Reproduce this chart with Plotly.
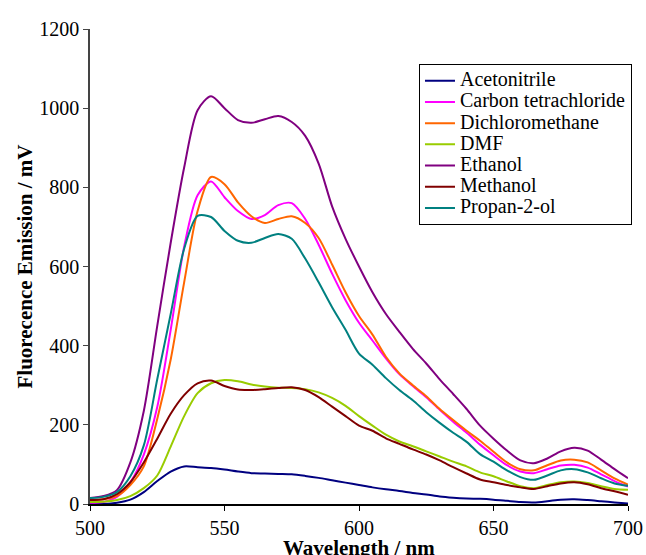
import plotly.graph_objects as go

wavelength = list(range(500, 701, 5))

acetonitrile = [0, 0, 3, 11, 30, 58, 82, 95, 93, 91, 87, 82, 78, 77, 76, 75, 71, 66, 60, 54,
                48, 42, 37, 33, 28, 24, 19, 16, 14, 13, 11, 8, 5, 4, 7, 11, 12, 10, 7, 4, 1]
carbon_tetrachloride = [3, 5, 18, 55, 125, 245, 440, 650, 780, 815, 775, 740, 720, 730, 755, 760, 720, 655, 582, 515,
                        458, 413, 368, 328, 298, 270, 238, 208, 180, 150, 123, 98, 82, 78, 88, 97, 99, 92, 75, 58, 44]
dichloromethane = [10, 12, 20, 48, 95, 215, 365, 560, 740, 826, 808, 762, 727, 710, 720, 727, 710, 672, 605, 535,
                   475, 428, 372, 330, 300, 272, 240, 212, 185, 160, 132, 105, 88, 85, 98, 110, 112, 105, 85, 65, 49]
dmf = [5, 6, 10, 20, 40, 72, 145, 222, 280, 305, 313, 310, 302, 297, 294, 293, 290, 282, 268, 248,
       222, 198, 175, 158, 146, 133, 120, 107, 95, 80, 70, 57, 45, 40, 48, 55, 57, 53, 45, 38, 36]
ethanol = [15, 20, 35, 105, 235, 450, 660, 850, 995, 1030, 1000, 970, 963, 972, 980, 965, 930, 860, 752, 670,
           600, 535, 480, 435, 392, 355, 315, 278, 240, 198, 165, 135, 110, 103, 115, 133, 142, 135, 112, 88, 65]
methanol = [10, 12, 25, 55, 105, 165, 228, 275, 305, 312, 298, 289, 288, 290, 293, 295, 288, 270, 246, 222,
            198, 185, 166, 152, 138, 125, 110, 93, 77, 62, 55, 48, 42, 38, 45, 52, 55, 50, 40, 32, 23]
propan_2_ol = [15, 18, 30, 70, 148, 315, 480, 645, 728, 725, 690, 665, 660, 672, 682, 670, 620, 560, 497, 440,
               380, 352, 318, 288, 262, 232, 205, 180, 157, 126, 107, 85, 68, 61, 72, 85, 88, 80, 65, 52, 46]

series_names = ["Acetonitrile", "Carbon tetrachloride", "Dichloromethane", "DMF",
                "Ethanol", "Methanol", "Propan-2-ol"]
series_values = [acetonitrile, carbon_tetrachloride, dichloromethane, dmf,
                 ethanol, methanol, propan_2_ol]
series_colors = ["#000080", "#FF00FF", "#FF6600", "#99CC00", "#800080", "#800000", "#008080"]

x_ticks = [500, 550, 600, 650, 700]
y_ticks = [0, 200, 400, 600, 800, 1000, 1200]

font_family = "Liberation Serif, Times New Roman, serif"

fig = go.Figure()
for name, vals, col in zip(series_names, series_values, series_colors):
    fig.add_trace(go.Scatter(
        x=wavelength, y=vals, mode="lines",
        name='<span style="font-size:20px">' + name + '</span>',
        line=dict(color=col, width=2, shape="spline", smoothing=0.8),
    ))

fig.update_layout(
    width=646, height=555,
    margin=dict(l=90, r=18, t=29, b=51),
    paper_bgcolor="white", plot_bgcolor="white",
    font=dict(family=font_family, size=20, color="black"),
    showlegend=True,
    legend=dict(
        x=0.6115, y=0.926, xanchor="left", yanchor="top",
        bgcolor="white", bordercolor="black", borderwidth=1,
        font=dict(family=font_family, size=14, color="black"),
        itemwidth=30, tracegroupgap=0,
    ),
    xaxis=dict(
        range=[500, 700], tickvals=x_ticks, ticktext=[str(v) for v in x_ticks],
        showgrid=False, zeroline=False, showline=True, linecolor="black", linewidth=1.5,
        ticks="outside", ticklen=5, tickcolor="black", automargin=False,
        tickfont=dict(family=font_family, size=20),
    ),
    yaxis=dict(
        range=[0, 1200], tickvals=y_ticks, ticktext=[str(v) for v in y_ticks],
        showgrid=False, zeroline=False, showline=True, linecolor="#444444", linewidth=1.5,
        ticks="outside", ticklen=5, tickcolor="#444444", automargin=False,
        tickfont=dict(family=font_family, size=20),
        title=dict(text="<b>Fluorecence Emission / mV</b>",
                   font=dict(family=font_family, size=21), standoff=1),
    ),
    annotations=[dict(
        text="<b>Wavelength / nm</b>", x=0.5, y=0, xref="paper", yref="paper",
        xanchor="center", yanchor="top", yshift=-30, showarrow=False,
        font=dict(family=font_family, size=21, color="black"),
    )],
)

fig.write_html("out.html")
